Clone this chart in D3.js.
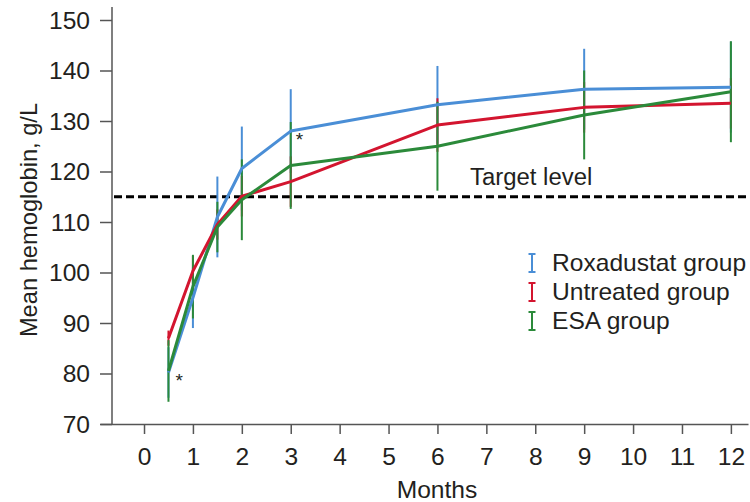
<!DOCTYPE html>
<html>
<head>
<meta charset="utf-8">
<script src="https://cdn.jsdelivr.net/npm/d3@7"></script>
<style>
  body { margin: 0; background: #fff; }
  svg text { font-family: "Liberation Sans", Arial, Helvetica, sans-serif; fill: #231f20; }
</style>
</head>
<body>
<svg id="chart" width="750" height="502"></svg>
<script>
// data
const months = [0.5, 1, 1.5, 2, 3, 6, 9, 12]
const groups = ['Roxadustat group', 'Untreated group', 'ESA group']
const roxMean = [80.2, 95, 111, 120.6, 128, 133.2, 136.3, 136.7]
const roxErr = [5, 6, 8, 8.3, 8.3, 7.7, 8, 9]
const untMean = [87, 100.3, 109.5, 115.1, 118, 129.2, 132.7, 133.5]
const untErr = [1.5, 3, 3, 4, 5, 5.3, 5, 5]
const esaMean = [80.5, 97.2, 109, 114.4, 121.2, 125, 131.2, 135.8]
const esaErr = [6.1, 6.3, 5, 8, 8.6, 8.8, 8.8, 10]
const xTicks = [0, 1, 2, 3, 4, 5, 6, 7, 8, 9, 10, 11, 12]
const yTicks = [70, 80, 90, 100, 110, 120, 130, 140, 150]
const target = 115

const colors = ['#4a8ed6', '#d3152f', '#2b8a3a']
const series = [
    { mean: roxMean, err: roxErr },
    { mean: untMean, err: untErr },
    { mean: esaMean, err: esaErr }
]

const SVG = d3.select('#chart')
const yAxisX = 112
const fontSize = '23px'
const sx = 1.07 // the source text is a little wider than Liberation Sans

const xscale = d3.scaleLinear()
    .domain([-0.9, 12.35])
    .range([100, 748])

const yscale = d3.scaleLinear()
    .domain([70, 150])
    .range([424, 20])

// x axis
const bottom = d3.axisBottom(xscale).tickValues(xTicks).tickSizeInner(10).tickSizeOuter(0).tickPadding(0).tickFormat(d3.format('d'))
const gx = SVG.append('g')
    .attr('transform', `translate(0, ${yscale(70)})`)
    .call(bottom)
gx.select('.domain').attr('stroke', '#555').attr('stroke-width', 1.5)
gx.selectAll('.tick line').attr('stroke', '#555').attr('stroke-width', 1.5)
gx.selectAll('.tick text')
    .attr('y', 41)
    .attr('dy', 0)
    .attr('transform', `scale(${sx},1)`)
    .style('font-size', fontSize)
    .style('font-family', '"Liberation Sans", Arial, sans-serif')
    .attr('fill', '#231f20')

// y axis
const left = d3.axisLeft(yscale).tickValues(yTicks).tickSizeInner(12).tickSizeOuter(0).tickPadding(10)
const gy = SVG.append('g')
    .attr('transform', `translate(${yAxisX}, 0)`)
    .call(left)
gy.select('.domain').attr('d', `M0,7V${yscale(70)}`).attr('stroke', '#555').attr('stroke-width', 1.5)
gy.selectAll('.tick line').attr('stroke', '#555').attr('stroke-width', 1.5)
gy.selectAll('.tick text')
    .attr('dy', '0.36em')
    .attr('x', -22 / sx)
    .attr('transform', `scale(${sx},1)`)
    .style('font-size', fontSize)
    .style('font-family', '"Liberation Sans", Arial, sans-serif')
    .attr('fill', '#231f20')

// axis titles
SVG.append('text')
    .text('Months')
    .attr('transform', `translate(437, 498) scale(${sx},1)`)
    .style('text-anchor', 'middle')
    .style('font-size', fontSize)

SVG.append('text')
    .text('Mean hemoglobin, g/L')
    .attr('transform', `translate(37, 220) rotate(-90) scale(1.03,1)`)
    .style('text-anchor', 'middle')
    .style('font-size', fontSize)

// target line
SVG.append('line')
    .attr('x1', yAxisX + 2)
    .attr('x2', 746)
    .attr('y1', yscale(target))
    .attr('y2', yscale(target))
    .attr('stroke', '#000')
    .attr('stroke-width', 3)
    .attr('stroke-dasharray', '8,4')

SVG.append('text')
    .text('Target level')
    .attr('transform', `translate(470, 185) scale(1.04,1)`)
    .style('font-size', fontSize)

// error bars
series.forEach((s, k) => {
    SVG.append('g')
        .selectAll('line')
        .data(months)
        .join('line')
        .attr('x1', (d) => xscale(d))
        .attr('x2', (d) => xscale(d))
        .attr('y1', (d, i) => yscale(s.mean[i] + s.err[i]))
        .attr('y2', (d, i) => yscale(s.mean[i] - s.err[i]))
        .attr('stroke', colors[k])
        .attr('stroke-width', 2)
})

// mean lines
const line = d3.line()
    .x((d) => xscale(d[0]))
    .y((d) => yscale(d[1]))

series.forEach((s, k) => {
    SVG.append('path')
        .datum(months.map((m, i) => [m, s.mean[i]]))
        .attr('d', line)
        .attr('fill', 'none')
        .attr('stroke', colors[k])
        .attr('stroke-width', 3)
        .attr('stroke-linejoin', 'round')
})

// significance marks
SVG.append('text')
    .text('*')
    .attr('x', xscale(0.5) + 7)
    .attr('y', yscale(80) + 13)
    .style('font-size', '19px')

SVG.append('text')
    .text('*')
    .attr('x', xscale(3) + 5)
    .attr('y', yscale(128) + 15)
    .style('font-size', '19px')

// legend
const legendY = [263, 292, 321]
groups.forEach((g, k) => {
    const lg = SVG.append('g').attr('transform', `translate(532, ${legendY[k]})`)
    lg.append('line').attr('x1', 0).attr('x2', 0).attr('y1', -9).attr('y2', 9)
        .attr('stroke', colors[k]).attr('stroke-width', 2)
    lg.append('line').attr('x1', -3.5).attr('x2', 3.5).attr('y1', -9).attr('y2', -9)
        .attr('stroke', colors[k]).attr('stroke-width', 2)
    lg.append('line').attr('x1', -3.5).attr('x2', 3.5).attr('y1', 9).attr('y2', 9)
        .attr('stroke', colors[k]).attr('stroke-width', 2)
    lg.append('text')
        .text(g)
        .attr('transform', `translate(20, 8) scale(${sx},1)`)
        .style('font-size', fontSize)
})
</script>
</body>
</html>
